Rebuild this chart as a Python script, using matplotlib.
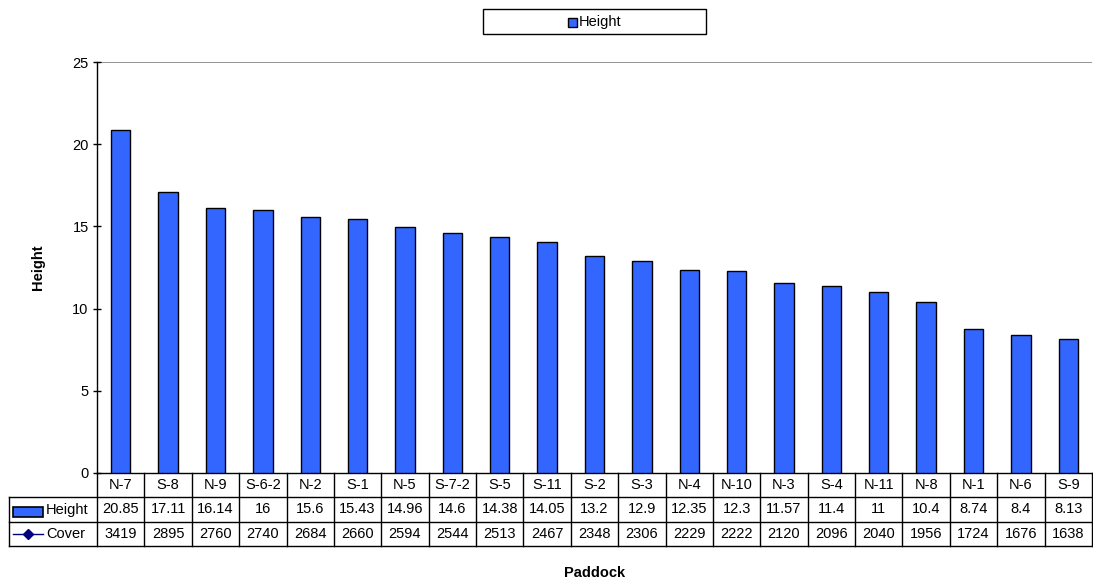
import matplotlib.pyplot as plt
from matplotlib.patches import Rectangle
from matplotlib.lines import Line2D
import matplotlib.transforms as mtransforms

plt.rcParams['font.family'] = ['Liberation Sans', 'DejaVu Sans']

paddocks = ["N-7", "S-8", "N-9", "S-6-2", "N-2", "S-1", "N-5", "S-7-2", "S-5", "S-11", "S-2",
            "S-3", "N-4", "N-10", "N-3", "S-4", "N-11", "N-8", "N-1", "N-6", "S-9"]
height = [20.85, 17.11, 16.14, 16, 15.6, 15.43, 14.96, 14.6, 14.38, 14.05, 13.2,
          12.9, 12.35, 12.3, 11.57, 11.4, 11, 10.4, 8.74, 8.4, 8.13]
cover = [3419, 2895, 2760, 2740, 2684, 2660, 2594, 2544, 2513, 2467, 2348,
         2306, 2229, 2222, 2120, 2096, 2040, 1956, 1724, 1676, 1638]
height_labels = ["20.85", "17.11", "16.14", "16", "15.6", "15.43", "14.96", "14.6", "14.38",
                 "14.05", "13.2", "12.9", "12.35", "12.3", "11.57", "11.4", "11", "10.4",
                 "8.74", "8.4", "8.13"]

BLUE = "#3366FF"
FS = 10.5
W, H = 1093, 581

fig = plt.figure(figsize=(W / 100, H / 100), dpi=100)
ax = fig.add_axes([97 / W, 1 - 473 / H, (1092 - 97) / W, (473 - 62) / H])

x = list(range(len(paddocks)))
ax.bar(x, height, width=0.41, color=BLUE, edgecolor="black", linewidth=1, zorder=3)

ax.set_xlim(-0.5, len(paddocks) - 0.5)
ax.set_ylim(0, 25)
ax.set_yticks([0, 5, 10, 15, 20, 25])
ax.tick_params(axis="y", labelsize=FS, length=6, width=1, direction="inout", pad=3)
ax.set_xticks([])
ax.axhline(25, color="#808080", linewidth=1.2, zorder=1)
for s in ["top", "right"]:
    ax.spines[s].set_visible(False)
ax.spines["left"].set_linewidth(1)
ax.spines["bottom"].set_linewidth(1)

ax.set_ylabel("Height", fontsize=FS, fontweight="bold", labelpad=20)

# data table under the axis
trans = mtransforms.blended_transform_factory(ax.transData, ax.transAxes)
row_h = 24.3 / (473 - 62)
rows_y = [0, -row_h, -2 * row_h, -3 * row_h]
left_data = -0.5 - (97 - 9) / ((1092 - 97) / len(paddocks))
right_data = len(paddocks) - 0.5

for i in range(len(paddocks) + 1):
    ax.plot([i - 0.5, i - 0.5], [rows_y[0], rows_y[3]], transform=trans, color="black",
            linewidth=1, clip_on=False)
ax.plot([left_data, left_data], [rows_y[1], rows_y[3]], transform=trans, color="black",
        linewidth=1, clip_on=False)
for yy in rows_y[1:]:
    ax.plot([left_data, right_data], [yy, yy], transform=trans, color="black",
            linewidth=1, clip_on=False)

for i, name in enumerate(paddocks):
    ax.text(i, -0.5 * row_h, name, transform=trans, ha="center", va="center", fontsize=FS)
    ax.text(i, -1.5 * row_h, height_labels[i], transform=trans, ha="center", va="center", fontsize=FS)
    ax.text(i, -2.5 * row_h, str(cover[i]), transform=trans, ha="center", va="center", fontsize=FS)

# row keys
key_trans = fig.transFigure
fig.patches.append(Rectangle((13 / W, 1 - 517 / H), 30 / W, 10 / H, transform=key_trans,
                             facecolor=BLUE, edgecolor="black", linewidth=1.2))
fig.text(46 / W, 1 - 510 / H, "Height", fontsize=FS, va="center", ha="left")
fig.lines.append(Line2D([13 / W, 43 / W], [1 - 534 / H] * 2, transform=key_trans,
                        color="#000080", linewidth=1))
fig.lines.append(Line2D([28 / W], [1 - 534 / H], transform=key_trans, color="#000080",
                        marker="D", markersize=5, linestyle="none"))
fig.text(46 / W, 1 - 534 / H, "Cover", fontsize=FS, va="center", ha="left")

fig.text((97 + 1092) / 2 / W, 1 - 573 / H, "Paddock", fontsize=FS, fontweight="bold",
         ha="center", va="center")

# legend box at the top
fig.patches.append(Rectangle((483 / W, 1 - 34 / H), 223 / W, 25 / H, transform=key_trans,
                             facecolor="white", edgecolor="black", linewidth=1))
fig.patches.append(Rectangle((568 / W, 1 - 27 / H), 9 / W, 9 / H, transform=key_trans,
                             facecolor=BLUE, edgecolor="black", linewidth=1))
fig.text(579 / W, 1 - 22 / H, "Height", fontsize=FS, va="center", ha="left")

fig.savefig("out.png", dpi=100)
